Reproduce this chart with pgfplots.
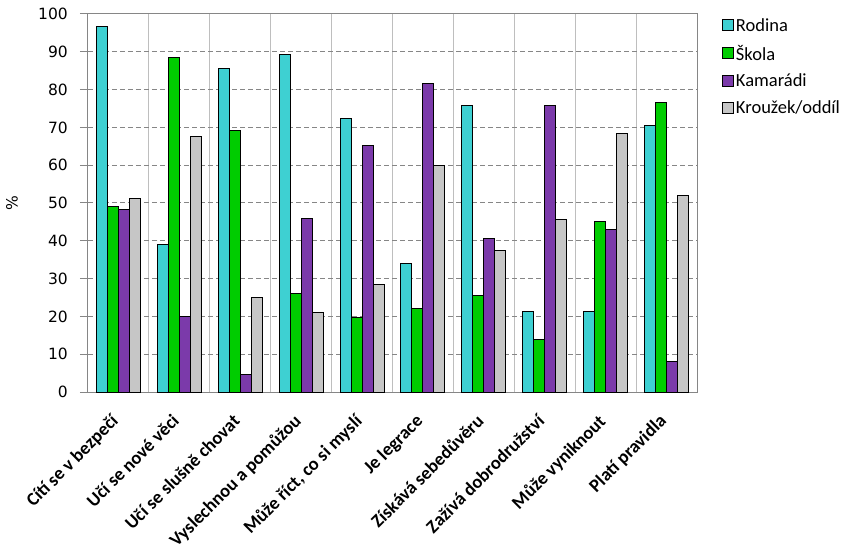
\documentclass[border=0pt]{standalone}
\usepackage{fontspec}
\setmainfont{Carlito}
\newfontfamily\dejavu{DejaVu Sans}
\usepackage{pgfplots}
\pgfplotsset{compat=1.18}
\definecolor{cRod}{RGB}{62,208,210}
\definecolor{cSko}{RGB}{0,204,0}
\definecolor{cKam}{RGB}{123,58,170}
\definecolor{cKro}{RGB}{198,198,198}
\definecolor{axgray}{RGB}{134,134,134}
\definecolor{vgrid}{RGB}{190,190,190}
\begin{document}
\begin{tikzpicture}
\begin{axis}[
  scale only axis,
  width=609bp, height=378bp,
  ybar=0pt, bar width=11bp,
  xmin=-0.5, xmax=9.5,
  ymin=0, ymax=100,
  ytick={0,10,...,100},
  xtick={0,...,9},
  xticklabels={Cítí se v bezpečí, Učí se nové věci, Učí se slušně chovat, Vyslechnou a pomůžou, Může říct{,} co si myslí, Je legrace, Získává sebedůvěru, Zažívá dobrodružství, Může vyniknout, Platí pravidla},
  minor xtick={0.5,1.5,...,8.5},
  major x tick style={draw=none},
  minor x tick style={draw=none},
  xminorgrids=true,
  ymajorgrids=true,
  minor x grid style={vgrid, line width=1bp},
  major y grid style={axgray, line width=1bp, dash pattern=on 5bp off 3bp},
  axis line style={axgray, line width=1bp},
  y tick style={axgray, line width=1bp},
  ytick align=outside,
  major tick length=8bp,
  ytick pos=left,
  /pgf/number format/assume math mode=true,
  yticklabel style={font=\dejavu\fontsize{15.5bp}{18bp}\selectfont, inner sep=0pt, xshift=-12bp},
  xticklabel style={font=\bfseries\fontsize{18.5bp}{21bp}\selectfont, rotate=45, anchor=north east, inner sep=0pt, xshift=-15bp, yshift=-3bp},
  ylabel={\%},
  ylabel style={font=\dejavu\fontsize{15.5bp}{18bp}\selectfont, at={(axis description cs:-0.125,0.5)}, anchor=center},
  legend style={draw=none, at={(1,1)}, anchor=north west, xshift=25bp, yshift=-2bp, inner sep=0pt,
    font=\fontsize{18.5bp}{21bp}\selectfont, row sep=8.5bp, cells={anchor=west}},
  legend cell align=left,
  legend image code/.code={\draw[#1, draw=black, line width=0.8bp] (0bp,-5.5bp) rectangle (11bp,5.5bp);},
  every axis plot/.append style={draw=black, line width=1bp},
]
\addplot[fill=cRod] coordinates {(0,96.6) (1,39.1) (2,85.5) (3,89.4) (4,72.3) (5,34.0) (6,75.9) (7,21.3) (8,21.3) (9,70.4)};
\addplot[fill=cSko] coordinates {(0,49.0) (1,88.4) (2,69.3) (3,26.1) (4,19.8) (5,22.1) (6,25.6) (7,13.9) (8,45.0) (9,76.7)};
\addplot[fill=cKam] coordinates {(0,48.3) (1,20.1) (2,4.7) (3,45.9) (4,65.3) (5,81.5) (6,40.7) (7,75.7) (8,43.0) (9,8.2)};
\addplot[fill=cKro] coordinates {(0,51.2) (1,67.5) (2,25.1) (3,21.1) (4,28.5) (5,60.0) (6,37.5) (7,45.7) (8,68.5) (9,52.1)};
\legend{Rodina, Škola, Kamarádi, Kroužek/oddíl}
\end{axis}
\pgfresetboundingbox
\useasboundingbox (-88bp,-155bp) rectangle (763bp,392bp);
\end{tikzpicture}
\end{document}
